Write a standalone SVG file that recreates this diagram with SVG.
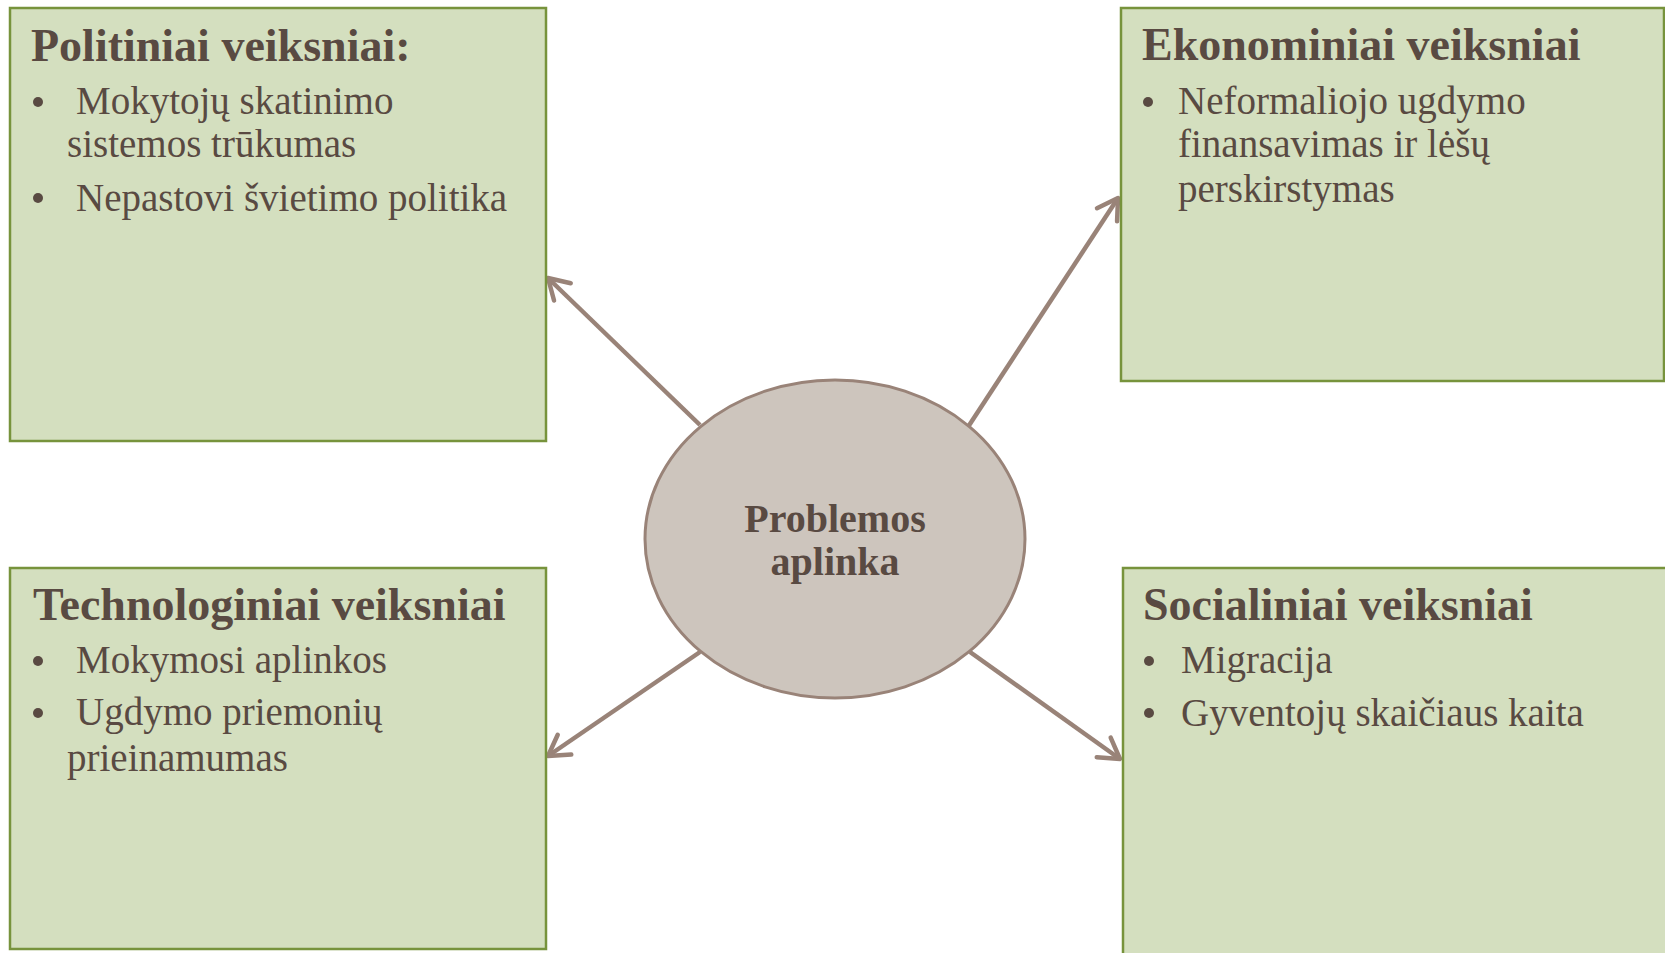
<svg xmlns="http://www.w3.org/2000/svg" width="1665" height="953" viewBox="0 0 1665 953">
<defs>
<style>
.box{fill:#d4dfbf;stroke:#77933c;stroke-width:2.5}
.ell{fill:#cdc5bd;stroke:#998378;stroke-width:3}
.title{font-family:"Liberation Serif","DejaVu Serif",serif;font-weight:bold;font-size:46px;fill:#594a42}
.body{font-family:"Liberation Serif","DejaVu Serif",serif;font-size:39px;fill:#594a42}
.bul{fill:#594a42}
.center{font-family:"Liberation Serif","DejaVu Serif",serif;font-weight:bold;font-size:40px;fill:#594a42;text-anchor:middle}
.conn{stroke:#998378;stroke-width:4.5;fill:none;marker-end:url(#arr)}
</style>
<marker id="arr" markerUnits="userSpaceOnUse" orient="auto" refX="0" refY="0" markerWidth="40" markerHeight="40" viewBox="-30 -20 40 40" overflow="visible">
<path d="M -20 -12 L 0 0 L -20 12" fill="none" stroke="#998378" stroke-width="4.5" stroke-linecap="round" stroke-linejoin="round"/>
</marker>
</defs>
<rect width="1665" height="953" fill="#ffffff"/>
<g id="connectors">
<line class="conn" x1="700" y1="425" x2="548" y2="278"/>
<line class="conn" x1="968" y1="427" x2="1118" y2="198"/>
<line class="conn" x1="700" y1="652" x2="548" y2="756"/>
<line class="conn" x1="970" y1="652" x2="1120" y2="759"/>
</g>
<g id="politiniai">
<rect class="box" x="10" y="8" width="536" height="433"/>
<text class="title" x="31" y="61">Politiniai veiksniai:</text>
<circle class="bul" cx="38" cy="102" r="5"/>
<text class="body" x="76" y="114">Mokytojų skatinimo</text>
<text class="body" x="67" y="157">sistemos trūkumas</text>
<circle class="bul" cx="38" cy="198" r="5"/>
<text class="body" x="76" y="211">Nepastovi švietimo politika</text>
</g>
<g id="ekonominiai">
<rect class="box" x="1121" y="8" width="543" height="373"/>
<text class="title" x="1142" y="60">Ekonominiai veiksniai</text>
<circle class="bul" cx="1148" cy="102" r="5"/>
<text class="body" x="1178" y="114">Neformaliojo ugdymo</text>
<text class="body" x="1178" y="157">finansavimas ir lėšų</text>
<text class="body" x="1178" y="202">perskirstymas</text>
</g>
<g id="technologiniai">
<rect class="box" x="10" y="568" width="536" height="381"/>
<text class="title" x="33" y="620">Technologiniai veiksniai</text>
<circle class="bul" cx="38" cy="661" r="5"/>
<text class="body" x="76" y="673">Mokymosi aplinkos</text>
<circle class="bul" cx="38" cy="713" r="5"/>
<text class="body" x="76" y="725">Ugdymo priemonių</text>
<text class="body" x="67" y="771">prieinamumas</text>
</g>
<g id="socialiniai">
<rect class="box" x="1123" y="568" width="560" height="400"/>
<text class="title" x="1143" y="620">Socialiniai veiksniai</text>
<circle class="bul" cx="1149" cy="661" r="5"/>
<text class="body" x="1181" y="673">Migracija</text>
<circle class="bul" cx="1149" cy="713" r="5"/>
<text class="body" x="1181" y="726">Gyventojų skaičiaus kaita</text>
</g>
<g id="problemos">
<ellipse class="ell" cx="835" cy="539" rx="190" ry="159"/>
<text class="center" x="835" y="532">Problemos</text>
<text class="center" x="835" y="575">aplinka</text>
</g>
</svg>
